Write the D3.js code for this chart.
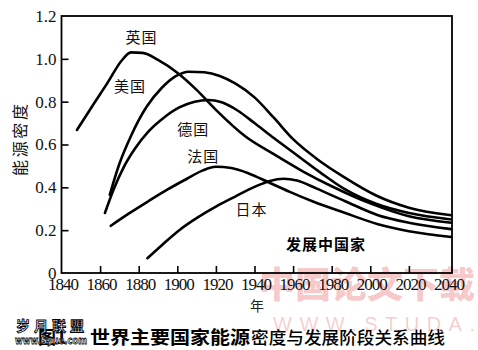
<!DOCTYPE html>
<html><head><meta charset="utf-8">
<script src="https://cdn.jsdelivr.net/npm/d3@7"></script>
<style>body{margin:0;background:#fff}svg{display:block}</style>
</head><body><svg id="c" width="478" height="350"></svg>
<script>
// ---------- data ----------
const xTicks = [1840,1860,1880,1900,1920,1940,1960,1980,2000,2020,2040];
const yTicks = [0,0.2,0.4,0.6,0.8,1.0,1.2];
const yTickLabels = ["0","0.2","0.4","0.6","0.8","1.0","1.2"];
const countries = ["英国","美国","德国","法国","日本"];

const ukYears  = [1848,1856,1864,1871,1876,1882,1890,1900,1910,1920,1935,1950,1965,1980,2000,2020,2042];
const ukValues = [0.668,0.78,0.89,0.99,1.03,1.028,0.995,0.935,0.855,0.762,0.64,0.555,0.475,0.405,0.325,0.265,0.235];

const usYears  = [1865,1870,1876,1884,1892,1899,1906,1914,1922,1930,1940,1950,1960,1972,1986,2003,2020,2042];
const usValues = [0.365,0.51,0.64,0.775,0.865,0.918,0.94,0.937,0.92,0.885,0.82,0.725,0.625,0.535,0.45,0.362,0.305,0.27];

const deYears  = [1862.5,1867,1872,1878,1885,1893,1901,1909,1916,1923,1931,1940,1950,1962,1974,1987,2003,2020,2042];
const deValues = [0.28,0.39,0.49,0.58,0.66,0.725,0.773,0.80,0.808,0.797,0.76,0.70,0.63,0.55,0.47,0.39,0.323,0.28,0.25];

const frYears  = [1865.5,1875,1885,1895,1905,1913,1920,1928,1937,1947,1958,1970,1987,2004,2020,2042];
const frValues = [0.22,0.278,0.335,0.39,0.44,0.478,0.496,0.49,0.465,0.425,0.38,0.335,0.28,0.228,0.195,0.168];

const jpYears  = [1884.5,1892,1901,1911,1920,1930,1940,1948,1955,1962,1972,1987,2004,2020,2042];
const jpValues = [0.069,0.13,0.20,0.262,0.31,0.357,0.402,0.43,0.44,0.432,0.395,0.335,0.27,0.235,0.205];

const seriesYears  = [ukYears, usYears, deYears, frYears, jpYears];
const seriesValues = [ukValues, usValues, deValues, frValues, jpValues];

// label anchors (in data units)
const labelYears  = [1881.5,1875.5,1908.3,1913.5,1938.5];
const labelValues = [1.096,0.87,0.668,0.543,0.294];

// ---------- drawing ----------
const svg = d3.select("#c");
svg.append("rect").attr("width",478).attr("height",350).attr("fill","#fff");

const x = d3.scaleLinear().domain([1840,2040]).range([61.5,447.5]);
const y = d3.scaleLinear().domain([0,1.2]).range([273,16]);

// faint pink watermark (behind)
svg.append("text").attr("x",259).attr("y",298)
  .attr("font-family","Noto Sans CJK SC").attr("font-weight",900).attr("font-size",36)
  .attr("textLength",216).attr("lengthAdjust","spacingAndGlyphs")
  .attr("fill","rgba(225,70,70,0.30)").text("中国论文下载");
svg.append("text").attr("x",273).attr("y",331)
  .attr("font-family","Liberation Sans").attr("font-size",20)
  .attr("textLength",202).attr("lengthAdjust","spacing")
  .attr("fill","rgba(225,80,80,0.28)").text("WWW.STUDA.");

// axes
const xAxis = d3.axisBottom(x).tickValues(xTicks).tickSizeInner(-7).tickSizeOuter(0).tickPadding(5).tickFormat(d3.format("d"));
const gx = svg.append("g").attr("transform","translate(0,273)").call(xAxis);
const yAxis = d3.axisLeft(y).tickValues(yTicks).tickSizeInner(-7).tickSizeOuter(0).tickPadding(5)
  .tickFormat((d,i)=>yTickLabels[i]);
const gy = svg.append("g").attr("transform","translate(61.5,0)").call(yAxis);
[gx,gy].forEach(g=>{
  g.select(".domain").remove();
  g.selectAll(".tick line").attr("stroke","#000").attr("stroke-width",1.6);
  g.selectAll(".tick text").attr("fill","#111").attr("font-family","Liberation Serif").attr("font-size",17);
});
gx.selectAll(".tick text").attr("letter-spacing","-1px").attr("dx","1");
gx.selectAll(".tick").filter(d=>d===1840||d===2040).select("line").remove();
gy.selectAll(".tick").filter(d=>d===0||d===1.2).select("line").remove();

// frame
svg.append("rect").attr("x",61.5).attr("y",16).attr("width",452-61.5).attr("height",273-16)
  .attr("fill","none").attr("stroke","#000").attr("stroke-width",1.8);

// curves
const line = d3.line().x(d=>x(d[0])).y(d=>y(d[1])).curve(d3.curveMonotoneX);
seriesYears.forEach((ys,i)=>{
  const pts = ys.map((yr,j)=>[yr, seriesValues[i][j]]);
  svg.append("path").attr("d",line(pts)).attr("fill","none")
    .attr("stroke","#000").attr("stroke-width",2.6).attr("stroke-linecap","round");
});

// country labels
countries.forEach((c,i)=>{
  svg.append("text").attr("x",x(labelYears[i])).attr("y",y(labelValues[i])+5)
    .attr("text-anchor","middle").attr("font-family","Noto Sans CJK SC").attr("font-size",15)
    .attr("letter-spacing","1px").attr("fill","#111").text(c);
});
svg.append("text").attr("x",x(1977)).attr("y",y(0.131)+5.5)
  .attr("text-anchor","middle").attr("font-family","Noto Sans CJK SC").attr("font-weight",700)
  .attr("font-size",15).attr("letter-spacing","1px").attr("fill","#000").text("发展中国家");

// axis titles
svg.append("text").attr("transform","translate(26,140) rotate(-90)").attr("text-anchor","middle")
  .attr("font-family","Noto Sans CJK SC").attr("font-size",16).attr("textLength",72)
  .attr("fill","#111").text("能源密度");
svg.append("text").attr("x",257).attr("y",311).attr("text-anchor","middle")
  .attr("font-family","Noto Sans CJK SC").attr("font-size",14).attr("fill","#222").text("年");

// caption
svg.append("text").attr("x",38).attr("y",344).attr("font-family","Noto Sans CJK SC")
  .attr("font-weight",700).attr("font-size",18).attr("fill","#000").text("图1");
svg.append("text").attr("x",90).attr("y",344).attr("font-family","Noto Sans CJK SC")
  .attr("font-weight",700).attr("font-size",18).attr("textLength",160).attr("lengthAdjust","spacingAndGlyphs")
  .attr("fill","#000").text("世界主要国家能源");
svg.append("text").attr("x",251).attr("y",344).attr("font-family","Noto Sans CJK SC")
  .attr("font-weight",500).attr("font-size",17).attr("textLength",194).attr("lengthAdjust","spacingAndGlyphs")
  .attr("fill","#000").text("密度与发展阶段关系曲线");

// site watermark (outlined)
svg.append("text").attr("x",16).attr("y",331).attr("font-family","Noto Sans CJK SC").attr("font-weight",700)
  .attr("font-size",14).attr("textLength",68).attr("lengthAdjust","spacing")
  .attr("fill","#fff").attr("stroke","#000").attr("stroke-width",0.9).text("岁月联盟");
svg.append("text").attr("x",15).attr("y",344).attr("font-family","DejaVu Sans").attr("font-weight",700)
  .attr("font-size",11).attr("textLength",72).attr("lengthAdjust","spacingAndGlyphs")
  .attr("fill","#fff").attr("stroke","#000").attr("stroke-width",0.8).text("www.Syue.com");
</script></body></html>
